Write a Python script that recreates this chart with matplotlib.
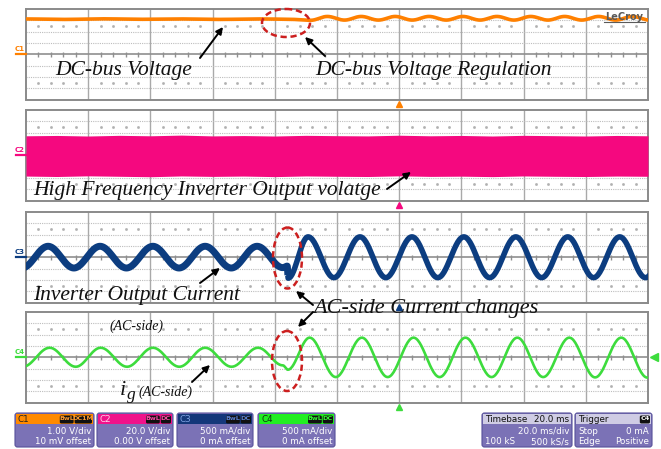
import numpy as np
import matplotlib.pyplot as plt
from matplotlib.patches import FancyBboxPatch, Rectangle, Ellipse

W, H = 661, 449
T_SPAN = 200.0          # 10 div x 20 ms/div
PANEL_TOPS = [9, 110, 212, 312]
PANEL_H = 90.5
LEFT, RIGHT = 26, 648

# C1: DC-bus voltage, extremes (ms, div)
c1_t = [0, 12, 25, 37, 50, 62, 75, 84, 91.5, 96.9, 102.4, 107.8, 113.3, 118.7,
        124.2, 129.6, 135.1, 140.5, 146.0, 151.4, 156.9, 162.3, 167.8, 173.2,
        178.7, 184.1, 189.6, 195.0, 200.5]
c1_v = [3.12, 3.08, 3.13, 3.09, 3.12, 3.08, 3.12, 3.10, 3.0, 3.34, 3.02, 3.34,
        3.02, 3.34, 3.02, 3.34, 3.02, 3.34, 3.02, 3.34, 3.02, 3.34, 3.02, 3.34,
        3.02, 3.34, 3.02, 3.34, 3.02]

# C2: high frequency inverter output voltage envelope (div)
c2_t = [0, 10, 20, 30, 40, 50, 60, 70, 80, 90, 100, 110, 120, 130, 140, 150,
        160, 170, 180, 190, 200]
c2_top = [1.72, 1.75, 1.70, 1.76, 1.72, 1.78, 1.71, 1.74, 1.70, 1.76, 1.73,
          1.71, 1.77, 1.72, 1.75, 1.70, 1.76, 1.73, 1.70, 1.75, 1.72]
c2_bot = [-1.84, -1.88, -1.82, -1.86, -1.90, -1.83, -1.87, -1.84, -1.89, -1.83,
          -1.86, -1.88, -1.82, -1.87, -1.85, -1.89, -1.83, -1.86, -1.88, -1.84,
          -1.86]

# C3: inverter output current, extremes (ms, div)
c3_t = [-1.3, 7.1, 15.4, 23.8, 32.3, 40.8, 49.2, 57.6, 66.0, 74.3, 82.6, 84.0,
        84.3, 90.7, 99.0, 107.4, 115.7, 124.1, 132.4, 140.8, 149.1, 157.5,
        165.8, 174.2, 182.5, 190.9, 199.2, 207.5]
c3_v = [-0.95, 0.97, -0.95, 0.97, -0.95, 0.97, -0.95, 0.97, -0.95, 0.97, -0.92,
        -0.78, -1.85, 1.80, -1.80, 1.80, -1.80, 1.80, -1.80, 1.80, -1.80, 1.80,
        -1.80, 1.80, -1.80, 1.80, -1.80, 1.80]

# C4: grid current i_g, extremes (ms, div)
c4_t = [-1.0, 7.6, 16.0, 24.0, 32.5, 40.8, 49.3, 57.6, 66.1, 74.6, 82.6, 84.2,
        91.2, 99.6, 108.0, 116.3, 124.6, 133.0, 141.3, 149.7, 158.0, 166.3,
        174.7, 183.0, 191.4, 199.8, 208.0]
c4_v = [-0.84, 0.84, -0.84, 0.84, -0.84, 0.84, -0.84, 0.84, -0.84, 0.84, -0.72,
        -1.10, 1.73, -1.75, 1.73, -1.75, 1.73, -1.75, 1.73, -1.75, 1.73, -1.75,
        1.73, -1.78, 1.73, -1.80, 1.73]

ch_colors = ['#ff8000', '#f5087f', '#0c3d80', '#3ddc3d']


def trace_from_extremes(ts, vs, n=30):
    # join read extremes with half-cosine segments
    xs, ys = [], []
    for i in range(len(ts) - 1):
        u = np.linspace(0, 1, n, endpoint=False)
        xs.append(ts[i] + (ts[i + 1] - ts[i]) * u)
        ys.append(vs[i] + (vs[i + 1] - vs[i]) * (1 - np.cos(np.pi * u)) / 2)
    xs.append([ts[-1]])
    ys.append([vs[-1]])
    return np.concatenate(xs), np.concatenate(ys)


def draw_grid(ax):
    ax.set_xlim(0, T_SPAN)
    ax.set_ylim(-4, 4)
    ax.set_xticks([])
    ax.set_yticks([])
    for s in ax.spines.values():
        s.set_color('#8a8a8a')
        s.set_linewidth(1.4)
    for k in range(1, 10):
        ax.axvline(20 * k, color='#a9a9a9', lw=1.0, zorder=1)
    for j in [-3, -2, -1, 1, 2, 3]:
        ax.axhline(j, color='#bdbdbd', lw=0.8, ls=(0, (1.0, 1.0)), zorder=1)
    ax.axhline(0, color='#8f8f8f', lw=1.2, zorder=1)
    minor = [x for x in np.arange(4, T_SPAN, 4) if x % 20 != 0]
    ax.vlines(minor, -0.22, 0.22, color='#8f8f8f', lw=1.0, zorder=1)
    for yy in (2.5, -2.5):
        ax.plot(minor, [yy] * len(minor), ls='none', marker='s', ms=0.9,
                color='#b0b0b0', zorder=1)


fig = plt.figure(figsize=(W / 100, H / 100), dpi=100)
fig.patch.set_facecolor('white')

panels = []
for top in PANEL_TOPS:
    ax = fig.add_axes([LEFT / W, 1 - (top + PANEL_H) / H,
                       (RIGHT - LEFT) / W, PANEL_H / H])
    draw_grid(ax)
    panels.append(ax)

x, y = trace_from_extremes(c1_t, c1_v)
panels[0].plot(x, y, color=ch_colors[0], lw=2.6, zorder=3)

panels[1].fill_between(c2_t, c2_bot, c2_top, color=ch_colors[1], lw=0, zorder=3)

x, y = trace_from_extremes(c3_t, c3_v)
pre = x <= 84.2
panels[2].plot(x[pre], y[pre], color=ch_colors[2], lw=5.0, zorder=3,
               solid_capstyle='butt')
panels[2].plot(x[~pre], y[~pre], color=ch_colors[2], lw=4.0, zorder=3,
               solid_capstyle='butt')
panels[2].plot(x[(x > 83.6) & (x < 84.8)], y[(x > 83.6) & (x < 84.8)],
               color=ch_colors[2], lw=2.5, zorder=3)

x, y = trace_from_extremes(c4_t, c4_v)
panels[3].plot(x, y, color=ch_colors[3], lw=1.9, zorder=3)

# overlay in pixel coordinates for labels and decorations
ov = fig.add_axes([0, 0, 1, 1], zorder=10)
ov.set_xlim(0, W)
ov.set_ylim(H, 0)
ov.axis('off')
ov.patch.set_alpha(0)

# channel tags on the left edge
for i, top in enumerate(PANEL_TOPS):
    cy = top + PANEL_H / 2
    ov.text(19.5, cy - 5, 'C%d' % (i + 1), color=ch_colors[i], fontsize=5,
            ha='center', va='center', fontweight='bold')
    ov.plot([16, 26], [cy, cy], color=ch_colors[i], lw=1.6)

# trigger position markers
for i, top in enumerate(PANEL_TOPS):
    ov.plot(399, top + PANEL_H + 4.5, marker='^', ms=5, color=ch_colors[i],
            zorder=1)
ov.plot(654, PANEL_TOPS[3] + PANEL_H / 2, marker='<', ms=6, color=ch_colors[3])

ov.text(624, 16.5, 'LeCroy', fontsize=7, color='#5a5a5a', ha='center',
        va='center', fontweight='bold')
ov.plot([604, 645], [22, 22], color='#5a5a5a', lw=0.8)

# dashed ellipses around the step change
for cx, cy, w, h in [(286, 23, 48, 28), (287.5, 258, 29, 61), (287, 361, 30, 60)]:
    ov.add_patch(Ellipse((cx, cy), w, h, fill=False, ec='#cc1f1f', lw=1.8,
                         ls=(0, (2.5, 1.5))))

serif = dict(family='Liberation Serif', style='italic', color='#111111')
ov.text(55, 75, 'DC-bus Voltage', fontsize=15.5, **serif)
ov.text(315, 75, 'DC-bus Voltage Regulation', fontsize=15.5, **serif)
ov.text(33, 195, 'High Frequency Inverter Output volatge', fontsize=15.5,
        **serif)
ov.text(33, 300, 'Inverter Output Current', fontsize=15.5, **serif)
ov.text(313, 313, 'AC-side Current changes', fontsize=16, **serif)
ov.text(110, 330, '(AC-side)', fontsize=10, **serif)
ov.text(120, 395, 'i', fontsize=16, **serif)
ov.text(127, 399, 'g', fontsize=12.5, **serif)
ov.text(139, 396, '(AC-side)', fontsize=10, **serif)

arrows = [((200, 58), (223, 27)), ((325, 56), (305, 37)),
          ((387, 189), (411, 172)), ((200, 283), (220, 268)),
          ((313, 305), (296, 291)), ((313, 312), (298, 327)),
          ((192, 382), (210, 365))]
for tail, head in arrows:
    ov.annotate('', xy=head, xytext=tail,
                arrowprops=dict(arrowstyle='-|>', color='black', lw=1.4,
                                mutation_scale=10, shrinkA=0, shrinkB=0))

# status boxes along the bottom
BODY = '#7b72b6'
BOX_TOP, BOX_BOT, HEAD_BOT = 413, 447, 424
sans = dict(family='DejaVu Sans', fontsize=6.3)


def status_box(x0, x1, head_color, head_left, head_left_color, badges,
               badge_color, rows, head_right=None):
    ov.add_patch(FancyBboxPatch((x0, BOX_TOP), x1 - x0, BOX_BOT - BOX_TOP,
                                boxstyle='round,pad=0,rounding_size=2.5',
                                fc=BODY, ec='#57509a', lw=0.8))
    ov.add_patch(Rectangle((x0 + 1, BOX_TOP + 1), x1 - x0 - 2,
                           HEAD_BOT - BOX_TOP - 1, fc=head_color, lw=0))
    hy = (BOX_TOP + HEAD_BOT) / 2 + 0.5
    ov.text(x0 + 3, hy, head_left, color=head_left_color, ha='left',
            va='center', **sans)
    if head_right:
        ov.text(x1 - 3, hy, head_right, color='#111111', ha='right',
                va='center', **sans)
    bx = x1 - 2
    for b in reversed(badges):
        bw = 3.6 * len(b) + 3
        ov.add_patch(FancyBboxPatch((bx - bw, BOX_TOP + 2.5), bw, 8,
                                    boxstyle='round,pad=0,rounding_size=1.5',
                                    fc='#111111', lw=0))
        ov.text(bx - bw / 2, hy, b, color=badge_color, ha='center',
                va='center', family='DejaVu Sans', fontsize=4.6,
                fontweight='bold')
        bx -= bw + 1
    for (left, right), ry in zip(rows, [431.5, 442]):
        if left:
            ov.text(x0 + 3, ry, left, color='white', ha='left', va='center',
                    **sans)
        ov.text(x1 - 3, ry, right, color='white', ha='right', va='center',
                **sans)


status_box(15, 94, '#ff8a00', 'C1', '#222222', ['BwL', 'DC1M'], '#ff9a30',
           [('', '1.00 V/div'), ('', '10 mV offset')])
status_box(97, 173, '#f0128a', 'C2', '#ffd0ea', ['BwL', 'DC'], '#ff4aa8',
           [('', '20.0 V/div'), ('', '0.00 V offset')])
status_box(177, 253, '#14377a', 'C3', '#7fa0e0', ['BwL', 'DC'], '#5b7fd0',
           [('', '500 mA/div'), ('', '0 mA offset')])
status_box(258, 335, '#22ee22', 'C4', '#113311', ['BwL', 'DC'], '#33ff33',
           [('', '500 mA/div'), ('', '0 mA offset')])
status_box(482, 572, '#cfcce4', 'Timebase', '#111111', [], 'white',
           [('', '20.0 ms/div'), ('100 kS', '500 kS/s')], head_right='20.0 ms')
status_box(575, 652, '#cfcce4', 'Trigger', '#111111', ['C4'], 'white',
           [('Stop', '0 mA'), ('Edge', 'Positive')])

fig.savefig('out.png', dpi=100)
